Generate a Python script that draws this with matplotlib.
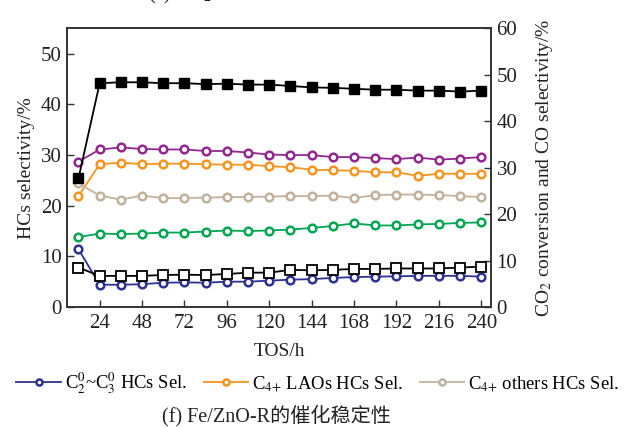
import matplotlib
matplotlib.use("Agg")
import matplotlib.pyplot as plt

plt.rcParams['font.family'] = ['Liberation Serif', 'Noto Sans CJK SC']
plt.rcParams['mathtext.fontset'] = 'stix'
plt.rcParams['axes.unicode_minus'] = False

# time on stream, h
tos = [12, 24, 36, 48, 60, 72, 84, 96, 108, 120, 132, 144, 156, 168, 180, 192, 204, 216, 228, 240]

# HCs selectivity, % (left axis)
c2c3_sel = [11.4, 4.4, 4.4, 4.5, 4.8, 4.85, 4.8, 5.0, 5.0, 5.2, 5.4, 5.5, 5.75, 5.9, 6.0, 6.05, 6.15, 6.15, 6.15, 6.0]
c4_laos_sel = [21.9, 28.2, 28.5, 28.2, 28.3, 28.3, 28.2, 28.1, 28.1, 27.8, 27.6, 27.1, 27.0, 26.9, 26.6, 26.6, 25.9, 26.3, 26.3, 26.3]
c4_others_sel = [24.4, 22.0, 21.2, 22.0, 21.5, 21.5, 21.6, 21.7, 21.7, 21.8, 21.9, 21.9, 22.0, 21.5, 22.1, 22.2, 22.2, 22.1, 21.9, 21.7]
purple_sel = [28.7, 31.1, 31.5, 31.2, 31.1, 31.1, 30.8, 30.8, 30.5, 30.1, 30.0, 30.0, 29.6, 29.6, 29.4, 29.2, 29.5, 29.1, 29.3, 29.6]
green_sel = [13.8, 14.5, 14.4, 14.5, 14.7, 14.7, 14.9, 15.1, 15.0, 15.1, 15.3, 15.6, 16.0, 16.5, 16.1, 16.1, 16.3, 16.4, 16.6, 16.7]

# CO2 conversion and CO selectivity, % (right axis)
co2_conv = [27.7, 48.2, 48.4, 48.4, 48.2, 48.2, 48.0, 48.1, 47.9, 47.9, 47.6, 47.3, 47.2, 47.0, 46.8, 46.8, 46.6, 46.6, 46.4, 46.6]
co_sel = [8.5, 6.7, 6.7, 6.7, 6.9, 6.95, 6.9, 7.1, 7.4, 7.4, 8.0, 7.9, 8.0, 8.2, 8.2, 8.3, 8.3, 8.3, 8.5, 8.7]

x_ticks = [24, 48, 72, 96, 120, 144, 168, 192, 216, 240]

fig = plt.figure(figsize=(6.29, 4.28), dpi=100)
ax = fig.add_axes([0.1065, 0.2827, 0.6741, 0.6509])
ax2 = ax.twinx()

spine_c = '#333333'
text_c = '#222222'
tick_fs = 15
label_fs = 14
legend_fs = 13.4

circ = dict(marker='o', markersize=5.5, markerfacecolor='white', markeredgewidth=1.8, linewidth=1.3)
l1, = ax.plot(tos, c2c3_sel, color='#2e3192', label='C$_{2}^{0}$~C$_{3}^{0}$ HCs Sel.', **circ)
l2, = ax.plot(tos, c4_laos_sel, color='#f7941d', label='C$_{4{+}}$ LAOs HCs Sel.', **circ)
l3, = ax.plot(tos, c4_others_sel, color='#c0b29c', label='C$_{4{+}}$ others HCs Sel.', **circ)
ax.plot(tos, purple_sel, color='#92278f', **circ)
ax.plot(tos, green_sel, color='#00a651', **circ)

ax2.plot(tos, co2_conv, color='black', marker='s', markersize=7, linewidth=1.3)
ax2.plot(tos, co_sel, color='black', marker='s', markersize=7, markerfacecolor='white',
         markeredgewidth=1.3, linewidth=1.3)

ax.set_xlim(5.5, 245.5)
ax.set_ylim(0, 55)
ax2.set_ylim(0, 60)
ax.set_xticks(x_ticks)
ax.set_yticks(range(0, 51, 10))
ax2.set_yticks(range(0, 61, 10))

for a in (ax, ax2):
    for s in a.spines.values():
        s.set_color(spine_c)
        s.set_linewidth(1.2)
    a.tick_params(direction='in', length=5, width=1.0, color=spine_c, labelsize=tick_fs, labelcolor=text_c)
ax.tick_params(axis='x', pad=5)
ax.tick_params(axis='y', pad=4)
ax2.tick_params(axis='y', pad=4)

ax.set_xlabel('TOS/h', fontsize=label_fs, color=text_c, labelpad=7)
ax.set_ylabel('HCs selectivity/%', fontsize=label_fs, color=text_c, labelpad=4)
ax2.set_ylabel('CO$_2$ conversion and CO selectivity/%', fontsize=label_fs, color=text_c, labelpad=12)

fig.legend(handles=[l1, l2, l3], loc='center', bbox_to_anchor=(0.505, 0.105), ncol=3,
           frameon=False, fontsize=legend_fs, handlelength=2.4, handletextpad=0.2,
           columnspacing=0.9, markerscale=0.8)

fig.text(0.44, 0.03, '(f) Fe/ZnO-R的催化稳定性', ha='center', va='center', fontsize=14.5, color=text_c)
fig.text(0.40, 1.012, '(e) CO$_2$加氢制烯烃中的转化率与分布图', ha='center', va='center', fontsize=14.5, color=text_c)

fig.savefig('out.png', dpi=100)
